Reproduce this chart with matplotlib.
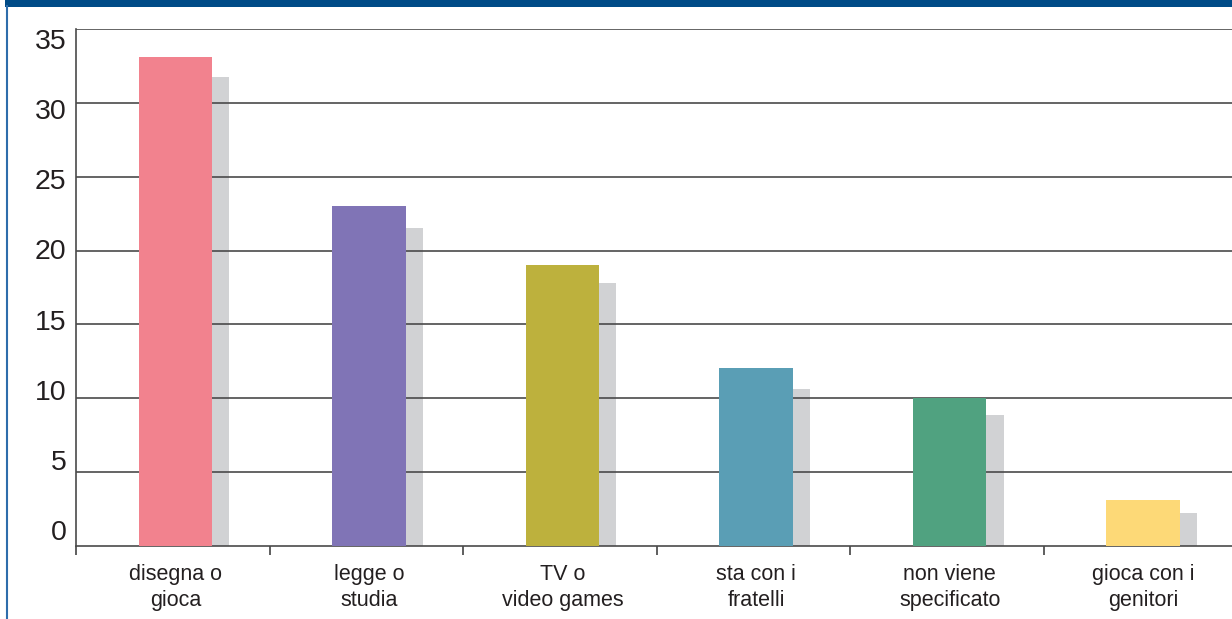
#!/usr/bin/env python3
# -*- coding: utf-8 -*-

import numpy as np
import matplotlib
matplotlib.use("Agg")
import matplotlib.pyplot as plt
from matplotlib.patches import Rectangle
from matplotlib.lines import Line2D

plt.rcParams['font.family'] = ['Liberation Sans', 'DejaVu Sans']

categories = ["disegna o\ngioca", "legge o\nstudia", "TV o\nvideo games",
              "sta con i\nfratelli", "non viene\nspecificato", "gioca con i\ngenitori"]
values = [33.1, 23.0, 19.0, 12.05, 10.0, 3.1]
values_prev = [31.75, 21.5, 17.8, 10.6, 8.85, 2.25]
colors = ["#F2828E", "#8074B6", "#BDB13D", "#5A9EB5", "#50A280", "#FDD977"]
y_ticks = [0, 5, 10, 15, 20, 25, 30, 35]

fig = plt.figure(figsize=(12.32, 6.19), dpi=100)
ax = fig.add_axes([76 / 1232, 1 - 546 / 619, 1164 / 1232, 517 / 619])

x = np.arange(len(categories))
width = 0.38
shift = 0.088

# grey bars behind, then grid lines, then coloured bars on top
ax.bar(x + shift, values_prev, width=width, color="#D1D2D4", zorder=1)
for v in y_ticks[1:]:
    ax.axhline(v, color="#4A4A4A", lw=1.2, zorder=2)
ax.bar(x, values, width=width, color=colors, zorder=3)

ax.set_xlim(-0.5, len(categories) - 0.5)
ax.set_ylim(0, 35)

for side in ["top", "right"]:
    ax.spines[side].set_visible(False)
ax.spines["left"].set_color("#4A4A4A")
ax.spines["bottom"].set_color("#4A4A4A")
ax.spines["left"].set_linewidth(1.2)
ax.spines["bottom"].set_linewidth(1.2)

# ticks at category boundaries
ax.set_xticks(np.arange(len(categories)) - 0.515)
ax.set_xticklabels([])
ax.tick_params(axis="x", direction="out", length=6.5, width=1.1, color="#333333")
ax.set_yticks([])

# category labels
for i, lab in enumerate(categories):
    ax.text(i, -1.2, lab, ha="center", va="top", fontsize=15.5,
            color="#231F20", linespacing=1.35)

# y labels (slightly compressed spacing, as in the original)
for v in y_ticks:
    ax.text(-0.565, 0.88 + 0.95 * v, str(v), ha="right", va="center",
            fontsize=20.5, color="#231F20")

# blue frame
fig.add_artist(Rectangle((5 / 1232, 1 - 7 / 619), 1, 7 / 619,
                         transform=fig.transFigure, color="#004B87", lw=0))
fig.add_artist(Line2D([6.5 / 1232, 6.5 / 1232], [0, 1 - 6 / 619],
                      transform=fig.transFigure, color="#2E6DAB", lw=1.5))

plt.savefig("out.png", dpi=100)
